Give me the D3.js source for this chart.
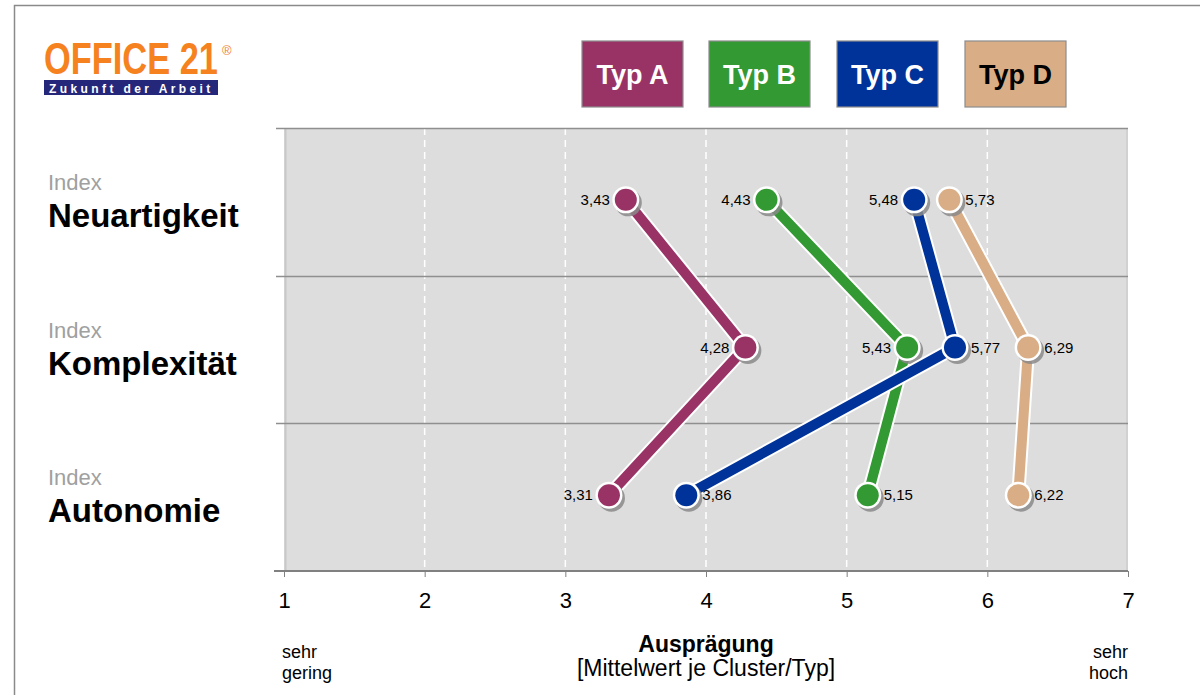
<!DOCTYPE html>
<html>
<head>
<meta charset="utf-8">
<script src="https://cdn.jsdelivr.net/npm/d3@7"></script>
<style>
  html, body { margin: 0; padding: 0; background: #fff; }
  svg { display: block; font-family: "Liberation Sans", Arial, sans-serif; }
</style>
</head>
<body>
<svg id="chart" width="1200" height="695"></svg>
<script>
// Index categories (rows, top to bottom)
const indices = ["Neuartigkeit", "Komplexität", "Autonomie"];
// Cluster types
const types = ["Typ A", "Typ B", "Typ C", "Typ D"];
const typeColors = ["#993366", "#339933", "#003399", "#D9AD85"];
const typeTextColors = ["#ffffff", "#ffffff", "#ffffff", "#000000"];
// Mean value per type, one entry per index
const valuesA = [3.43, 4.28, 3.31];
const valuesB = [4.43, 5.43, 5.15];
const valuesC = [5.48, 5.77, 3.86];
const valuesD = [5.73, 6.29, 6.22];
// Which side of the marker each value label sits on
const labelSideA = ["left", "left", "left"];
const labelSideB = ["left", "left", "right"];
const labelSideC = ["left", "right", "right"];
const labelSideD = ["right", "right", "right"];
const xTicks = [1, 2, 3, 4, 5, 6, 7];

const series = [
  { name: types[0], color: typeColors[0], text: typeTextColors[0], values: valuesA, sides: labelSideA },
  { name: types[1], color: typeColors[1], text: typeTextColors[1], values: valuesB, sides: labelSideB },
  { name: types[2], color: typeColors[2], text: typeTextColors[2], values: valuesC, sides: labelSideC },
  { name: types[3], color: typeColors[3], text: typeTextColors[3], values: valuesD, sides: labelSideD }
];

const svg = d3.select("#chart");
const fmt = v => d3.format(".2f")(v).replace(".", ",");

// Outer frame
svg.append("path")
  .attr("d", "M14.5,700 L14.5,5.5 L1205,5.5")
  .attr("fill", "none").attr("stroke", "#8a8a8a").attr("stroke-width", 1.5);

// Logo: condensed word mark, scaled horizontally to its box
const logo = svg.append("g");
const mark = logo.append("text").attr("x", 0).attr("y", 0)
  .attr("font-size", 41).attr("font-weight", "bold").attr("fill", "#F5821F").text("OFFICE 21");
const markW = mark.node().getComputedTextLength();
mark.attr("transform", `translate(44,74) scale(${174 / markW},1.08)`);
logo.append("text").attr("x", 222).attr("y", 55).attr("font-size", 13)
  .attr("fill", "#F5821F").text("®");
logo.append("rect").attr("x", 44).attr("y", 80).attr("width", 174).attr("height", 15)
  .attr("fill", "#25287A");
logo.append("text").attr("x", 49).attr("y", 92.5).attr("font-size", 12).attr("font-weight", "bold")
  .attr("fill", "#fff").attr("letter-spacing", 3.4).text("Zukunft der Arbeit");

// Plot geometry
const x = d3.scaleLinear().domain([1, 7]).range([284, 1128]);
const y = d3.scaleBand().domain(indices).range([128, 571]);
const yc = d => y(d) + y.bandwidth() / 2 - 2;

// Plot background
svg.append("rect").attr("x", x(1)).attr("y", 128).attr("width", x(7) - x(1)).attr("height", 571 - 128)
  .attr("fill", "#DDDDDD");
svg.append("line").attr("x1", x(1) + 1.5).attr("x2", x(1) + 1.5).attr("y1", 128).attr("y2", 571)
  .attr("stroke", "#c8c8c8").attr("stroke-width", 2);
svg.append("line").attr("x1", x(7) - 1).attr("x2", x(7) - 1).attr("y1", 128).attr("y2", 571)
  .attr("stroke", "#cccccc").attr("stroke-width", 1.5);

// Dashed vertical gridlines
svg.append("g").selectAll("line").data(xTicks.slice(1, -1)).join("line")
  .attr("x1", d => x(d)).attr("x2", d => x(d)).attr("y1", 128).attr("y2", 571)
  .attr("stroke", "#fff").attr("stroke-width", 1.5).attr("stroke-dasharray", "7,5");

// Row separators (band boundaries) with ticks to the left
const bounds = indices.map(d => y(d));
svg.append("g").selectAll("line").data(bounds).join("line")
  .attr("x1", 276).attr("x2", x(7)).attr("y1", d => Math.round(d) + 0.5).attr("y2", d => Math.round(d) + 0.5)
  .attr("stroke", "#8f8f8f").attr("stroke-width", 1.3);

// X axis
const xAxis = svg.append("g").attr("transform", "translate(0,571)")
  .call(d3.axisBottom(x).tickValues(xTicks).tickSize(6).tickPadding(15).tickFormat(d3.format("d")));
xAxis.select(".domain").attr("stroke", "#808080").attr("stroke-width", 2)
  .attr("d", `M274,0H${x(7)}`);
xAxis.selectAll(".tick line").attr("stroke", "#808080");
xAxis.selectAll(".tick text").attr("font-size", 22).attr("fill", "#000");

// Axis titles
svg.append("text").attr("x", 706).attr("y", 652).attr("text-anchor", "middle")
  .attr("font-size", 23).attr("font-weight", "bold").text("Ausprägung");
svg.append("text").attr("x", 706).attr("y", 676).attr("text-anchor", "middle")
  .attr("font-size", 23).text("[Mittelwert je Cluster/Typ]");
svg.append("text").attr("x", 282).attr("y", 658).attr("font-size", 18).text("sehr");
svg.append("text").attr("x", 282).attr("y", 679).attr("font-size", 18).text("gering");
svg.append("text").attr("x", 1128).attr("y", 658).attr("font-size", 18).attr("text-anchor", "end").text("sehr");
svg.append("text").attr("x", 1128).attr("y", 679).attr("font-size", 18).attr("text-anchor", "end").text("hoch");

// Row labels
const rowLabels = svg.append("g").selectAll("g").data(indices).join("g");
rowLabels.append("text").attr("x", 48).attr("y", d => yc(d) - 10)
  .attr("font-size", 22).attr("fill", "#a0a0a0").text("Index");
rowLabels.append("text").attr("x", 48).attr("y", d => yc(d) + 27)
  .attr("font-size", 33).attr("font-weight", "bold").attr("fill", "#000").text(d => d);

// Legend boxes
const legend = svg.append("g").selectAll("g").data(series).join("g")
  .attr("transform", (d, i) => `translate(${[582, 709, 837, 965][i]},41)`);
legend.append("rect").attr("width", 101).attr("height", 66)
  .attr("fill", d => d.color).attr("stroke", "#8c8c8c").attr("stroke-width", 1.2);
legend.append("text").attr("x", 50.5).attr("y", 43).attr("text-anchor", "middle")
  .attr("font-size", 27).attr("font-weight", "bold").attr("fill", d => d.text).text(d => d.name);

// Series: connecting line, markers and value labels
const line = d3.line().x(d => x(d.v)).y(d => yc(d.k));
const seriesG = svg.append("g").selectAll("g").data(series).join("g");
seriesG.each(function (s) {
  const g = d3.select(this);
  const pts = s.values.map((v, i) => ({ v, k: indices[i], side: s.sides[i] }));
  g.append("path").datum(pts).attr("d", line).attr("fill", "none")
    .attr("stroke", "#fff").attr("stroke-width", 14).attr("stroke-linejoin", "round");
  g.append("path").datum(pts).attr("d", line).attr("fill", "none")
    .attr("stroke", s.color).attr("stroke-width", 10).attr("stroke-linejoin", "round");
  const m = g.selectAll("g.m").data(pts).join("g").attr("class", "m")
    .attr("transform", d => `translate(${x(d.v)},${yc(d.k)})`);
  m.append("circle").attr("cx", 2.5).attr("cy", 3).attr("r", 13.5).attr("fill", "#8a8a8a").attr("opacity", 0.85);
  m.append("circle").attr("r", 13.5).attr("fill", "#fff");
  m.append("circle").attr("r", 11).attr("fill", s.color);
  m.append("text").attr("x", d => d.side === "left" ? -16 : 16).attr("y", 5)
    .attr("text-anchor", d => d.side === "left" ? "end" : "start")
    .attr("font-size", 15).attr("fill", "#000").text(d => fmt(d.v));
});
</script>
</body>
</html>
